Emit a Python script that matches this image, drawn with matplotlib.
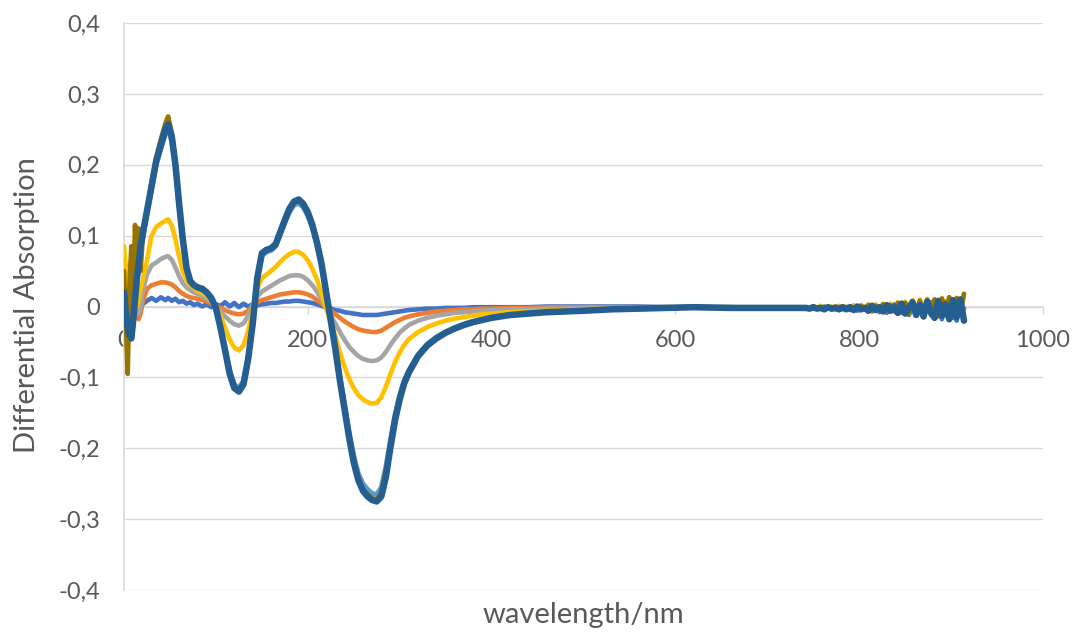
import numpy as np
import matplotlib
matplotlib.use("Agg")
import matplotlib.pyplot as plt

plt.rcParams['font.family'] = ['Lato', 'DejaVu Sans']

# wavelength grid (nm) shared by the spectra up to 740 nm
wl = [0, 2, 4, 6, 8, 10, 12, 14, 16, 18, 20, 25, 30, 35, 40, 45, 48, 52, 56, 60,
      64, 68, 72, 76, 80, 85, 90, 95, 100, 105, 110, 115, 120, 125, 130, 135, 140,
      145, 150, 155, 160, 165, 170, 175, 180, 185, 190, 195, 200, 205, 210, 215,
      220, 225, 230, 235, 240, 245, 250, 255, 260, 265, 270, 275, 280, 285, 290,
      295, 300, 305, 310, 320, 330, 340, 350, 360, 370, 380, 390, 400, 420, 440,
      460, 480, 500, 530, 560, 590, 620, 660, 700, 740]

blue = [0.02, -0.01, -0.02, 0.0, -0.01, 0.005, -0.005, -0.01, -0.012, -0.005, 0.003,
        0.008, 0.012, 0.008, 0.013, 0.009, 0.012, 0.008, 0.011, 0.006, 0.008, 0.004,
        0.006, 0.002, 0.004, 0.0, 0.003, -0.001, 0.003, 0.001, 0.006, 0.0, 0.005,
        -0.001, 0.004, 0.0, 0.003, 0.002, 0.003, 0.004, 0.005, 0.005, 0.006, 0.007,
        0.007, 0.008, 0.008, 0.007, 0.006, 0.005, 0.003, 0.001, -0.001, -0.003,
        -0.005, -0.006, -0.008, -0.009, -0.010, -0.011, -0.012, -0.012, -0.012,
        -0.012, -0.011, -0.010, -0.009, -0.008, -0.007, -0.006, -0.005, -0.004,
        -0.003, -0.003, -0.002, -0.002, -0.002, -0.001, -0.001, -0.001, -0.001,
        -0.001, 0.0, 0.0, 0.0, 0.0, 0.0, -0.001, -0.001, -0.001, -0.002, -0.002]

orange = [0.03, 0.0, -0.03, -0.01, 0.01, -0.02, 0.0, -0.015, -0.018, -0.01, 0.005,
          0.025, 0.03, 0.032, 0.034, 0.034, 0.033, 0.031, 0.027, 0.022, 0.018,
          0.015, 0.013, 0.012, 0.011, 0.009, 0.007, 0.004, 0.001, -0.002, -0.005,
          -0.008, -0.010, -0.011, -0.010, -0.006, 0.0, 0.006, 0.009, 0.011, 0.013,
          0.015, 0.017, 0.018, 0.019, 0.020, 0.020, 0.019, 0.017, 0.014, 0.009,
          0.004, -0.001, -0.006, -0.011, -0.016, -0.021, -0.025, -0.029, -0.032,
          -0.034, -0.035, -0.036, -0.036, -0.034, -0.030, -0.026, -0.022, -0.019,
          -0.016, -0.014, -0.011, -0.009, -0.007, -0.006, -0.005, -0.004, -0.004,
          -0.003, -0.003, -0.002, -0.002, -0.001, -0.001, -0.001, -0.001, -0.001,
          -0.001, -0.001, -0.001, -0.002, -0.002]

gray = [0.04, 0.0, -0.02, 0.02, 0.0, -0.01, 0.01, -0.005, -0.01, 0.0, 0.02, 0.045,
        0.058, 0.062, 0.067, 0.070, 0.071, 0.066, 0.055, 0.043, 0.033, 0.027,
        0.023, 0.020, 0.018, 0.015, 0.011, 0.006, 0.0, -0.007, -0.014, -0.020,
        -0.025, -0.027, -0.024, -0.013, 0.002, 0.014, 0.021, 0.025, 0.029, 0.033,
        0.037, 0.040, 0.043, 0.044, 0.044, 0.042, 0.037, 0.030, 0.021, 0.010,
        -0.002, -0.013, -0.024, -0.036, -0.047, -0.057, -0.064, -0.070, -0.074,
        -0.076, -0.077, -0.076, -0.072, -0.064, -0.054, -0.045, -0.037, -0.031,
        -0.026, -0.020, -0.016, -0.013, -0.011, -0.009, -0.008, -0.007, -0.006,
        -0.005, -0.004, -0.004, -0.003, -0.003, -0.002, -0.002, -0.001, -0.001,
        -0.001, -0.001, -0.002, -0.002]

yellow = [0.085, 0.05, 0.02, 0.06, 0.03, 0.0, 0.03, 0.0, 0.01, 0.025, 0.035, 0.065,
          0.100, 0.112, 0.117, 0.121, 0.123, 0.114, 0.095, 0.070, 0.050, 0.037,
          0.030, 0.026, 0.022, 0.019, 0.015, 0.009, 0.0, -0.013, -0.030, -0.047,
          -0.058, -0.062, -0.055, -0.035, -0.005, 0.025, 0.040, 0.045, 0.050, 0.056,
          0.063, 0.069, 0.074, 0.077, 0.077, 0.073, 0.065, 0.053, 0.038, 0.018,
          -0.003, -0.022, -0.042, -0.065, -0.085, -0.102, -0.115, -0.125, -0.131,
          -0.135, -0.137, -0.136, -0.128, -0.113, -0.095, -0.078, -0.065, -0.054,
          -0.046, -0.036, -0.029, -0.024, -0.020, -0.017, -0.015, -0.013, -0.011,
          -0.010, -0.008, -0.007, -0.006, -0.005, -0.004, -0.003, -0.002, -0.001,
          -0.001, -0.001, -0.002, -0.002]

light_blue = [0.01, -0.02, -0.03, -0.03, -0.03, -0.01, 0.01, 0.035, 0.055, 0.08,
              0.095, 0.13, 0.165, 0.200, 0.222, 0.243, 0.250, 0.233, 0.195, 0.140,
              0.092, 0.054, 0.036, 0.030, 0.027, 0.024, 0.019, 0.011, -0.003,
              -0.030, -0.060, -0.090, -0.110, -0.115, -0.105, -0.072, -0.024, 0.038,
              0.072, 0.077, 0.079, 0.085, 0.101, 0.118, 0.133, 0.143, 0.146, 0.140,
              0.128, 0.111, 0.087, 0.058, 0.019, -0.019, -0.058, -0.100, -0.139,
              -0.178, -0.211, -0.236, -0.250, -0.258, -0.264, -0.265, -0.255,
              -0.226, -0.188, -0.152, -0.125, -0.104, -0.090, -0.068, -0.053,
              -0.043, -0.036, -0.030, -0.025, -0.021, -0.018, -0.015, -0.012,
              -0.009, -0.008, -0.007, -0.006, -0.004, -0.003, -0.002, -0.001,
              -0.002, -0.002, -0.002]

olive = [0.05, -0.02, -0.095, 0.03, 0.085, 0.0, 0.115, 0.06, 0.11, 0.05, 0.09,
         0.135, 0.175, 0.210, 0.235, 0.258, 0.268, 0.245, 0.200, 0.145, 0.095,
         0.056, 0.037, 0.031, 0.028, 0.026, 0.020, 0.012, -0.002, -0.030, -0.062,
         -0.095, -0.113, -0.118, -0.108, -0.073, -0.024, 0.039, 0.074, 0.079, 0.081,
         0.087, 0.104, 0.121, 0.136, 0.146, 0.149, 0.143, 0.131, 0.113, 0.089,
         0.059, 0.020, -0.020, -0.059, -0.103, -0.143, -0.182, -0.217, -0.242,
         -0.257, -0.265, -0.271, -0.272, -0.262, -0.232, -0.193, -0.156, -0.128,
         -0.107, -0.092, -0.069, -0.054, -0.044, -0.037, -0.031, -0.026, -0.022,
         -0.019, -0.016, -0.012, -0.010, -0.008, -0.007, -0.006, -0.004, -0.003,
         -0.002, -0.001, -0.002, -0.002, -0.002]

dark_blue = [0.02, -0.01, -0.03, -0.04, -0.045, -0.02, 0.01, 0.04, 0.06, 0.085, 0.10,
             0.135, 0.170, 0.205, 0.228, 0.250, 0.257, 0.240, 0.200, 0.145, 0.095,
             0.055, 0.036, 0.030, 0.027, 0.025, 0.020, 0.012, -0.002, -0.030,
             -0.062, -0.095, -0.115, -0.120, -0.110, -0.075, -0.025, 0.040, 0.075,
             0.080, 0.082, 0.088, 0.105, 0.122, 0.138, 0.148, 0.151, 0.145, 0.133,
             0.115, 0.090, 0.060, 0.020, -0.020, -0.060, -0.105, -0.145, -0.185,
             -0.220, -0.245, -0.260, -0.268, -0.273, -0.275, -0.268, -0.240, -0.198,
             -0.160, -0.131, -0.108, -0.093, -0.070, -0.055, -0.045, -0.037, -0.031,
             -0.026, -0.022, -0.019, -0.016, -0.012, -0.010, -0.008, -0.007, -0.006,
             -0.004, -0.003, -0.002, -0.001, -0.002, -0.002, -0.002]

# noisy detector end, 742-914 nm in 4 nm steps
tail_wl = np.arange(742, 915, 4)
tail_dark_blue = [-0.002, -0.003, -0.001, -0.003, -0.002, -0.004, -0.001, -0.003,
                  -0.002, -0.004, -0.001, -0.004, -0.001,
                  -0.005, 0.000, -0.004, -0.002, -0.006, 0.001, -0.005, -0.001,
                  -0.007, 0.002, -0.006, 0.000, -0.009,
                  0.004, -0.010, -0.002, 0.006, -0.012, 0.002, -0.014, 0.007,
                  -0.008, -0.016,
                  0.008, -0.013, 0.003, -0.018, 0.009, -0.015, 0.010, -0.020]
tail_yellow = [-0.001, -0.002, 0.000, -0.002, 0.001, -0.002, -0.001, 0.000, -0.003,
               0.001, -0.002, 0.000, -0.003,
               0.002, -0.004, 0.002, -0.002, 0.003, -0.005, 0.003, -0.003, 0.004,
               -0.006, 0.004, -0.004, 0.006,
               -0.007, 0.007, -0.005, 0.009, -0.008, 0.010, -0.006, 0.011, -0.010,
               0.009,
               -0.011, 0.012, -0.008, 0.013, -0.012, 0.011, -0.009, 0.017]
tail_blue = [-0.002, -0.001, -0.003, -0.001, -0.003, 0.000, -0.003, -0.002, -0.004,
             0.000, -0.004, -0.002, -0.005,
             0.000, -0.006, -0.002, -0.004, 0.001, -0.007, -0.001, -0.008, 0.002,
             -0.009, -0.003, 0.003, -0.010,
             -0.004, 0.004, -0.012, 0.001, -0.013, 0.005, -0.015, -0.002, 0.006,
             -0.017,
             0.004, -0.018, 0.007, -0.016, -0.003, -0.020, 0.008, -0.014]
tail_olive = [-0.002, -0.003, 0.000, -0.002, -0.003, -0.001, -0.002, -0.004, 0.000,
              -0.003, -0.001, -0.004, 0.000,
              -0.003, -0.005, 0.001, -0.004, 0.002, -0.006, 0.001, -0.005, 0.003,
              -0.007, 0.002, -0.007, 0.005,
              -0.009, 0.005, -0.011, 0.007, -0.010, 0.008, -0.013, 0.009, -0.012,
              0.010,
              -0.014, 0.011, -0.012, 0.013, -0.016, 0.012, -0.010, 0.018]
# the weaker traces stay close to zero out to the end
tail_coarse_wl = [780, 830, 880, 914]
tail_coarse = [-0.001, -0.002, 0.002, -0.003]

series = [
    ("#4472C4", blue, tail_wl, tail_blue, 3.3),
    ("#ED7D31", orange, tail_coarse_wl, tail_coarse, 3.3),
    ("#A5A5A5", gray, tail_coarse_wl, tail_coarse, 3.3),
    ("#FFC000", yellow, tail_wl, tail_yellow, 3.3),
    ("#5B9BD5", light_blue, tail_coarse_wl, tail_coarse, 3.6),
    ("#997300", olive, tail_wl, tail_olive, 3.4),
    ("#255E91", dark_blue, tail_wl, tail_dark_blue, 4.7),
]

fig = plt.figure(figsize=(10.81, 6.37), dpi=100)
ax = fig.add_axes([124 / 1081, 1 - 590 / 637, (1043 - 124) / 1081, (590 - 23) / 637])

# spectra sit above the zero axis line
for color, vals, twl, tvals, lw in series:
    x = np.concatenate([wl, twl])
    y = np.concatenate([vals, tvals])
    ax.plot(x, y, color=color, lw=lw, solid_joinstyle='round',
            solid_capstyle='round', zorder=3)

ax.set_xlim(0, 1000)
ax.set_ylim(-0.4, 0.4)

grid_color = "#D9D9D9"
text_color = "#595959"

yt = np.round(np.arange(-0.4, 0.41, 0.1), 1)
ax.set_yticks(yt)
ax.set_yticklabels(["0" if v == 0 else f"{v:.1f}".replace(".", ",") for v in yt])
ax.set_xticks([0, 200, 400, 600, 800, 1000])
ax.set_xticklabels(["0", "200", "400", "600", "800", "1000"])

ax.grid(axis='y', color=grid_color, lw=1.0)
ax.set_axisbelow(True)
for s in ['top', 'right']:
    ax.spines[s].set_visible(False)
ax.spines['bottom'].set_position(('data', 0))
ax.spines['bottom'].set_color(grid_color)
ax.spines['bottom'].set_linewidth(1.2)
ax.spines['left'].set_color(grid_color)
ax.spines['left'].set_linewidth(1.2)

ax.tick_params(axis='y', length=0, pad=17, labelsize=17, labelcolor=text_color)
ax.tick_params(axis='x', length=5, width=1.0, color=grid_color, direction='out',
               pad=12, labelsize=17, labelcolor=text_color)

fig.text(583 / 1081, 1 - 615 / 637, "wavelength/nm", ha='center', va='center',
         fontsize=21, color=text_color)
fig.text(27 / 1081, 1 - 305 / 637, "Differential Absorption", ha='center',
         va='center', rotation=90, fontsize=21, color=text_color)

fig.savefig("out.png", dpi=100, facecolor="white")
